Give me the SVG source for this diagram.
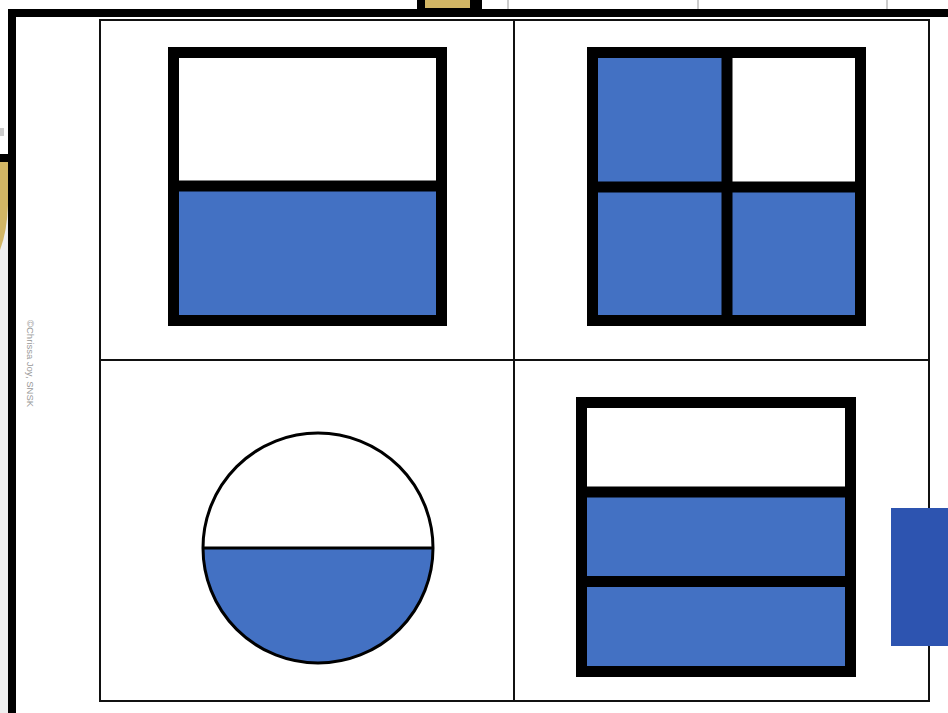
<svg xmlns="http://www.w3.org/2000/svg" width="948" height="713" viewBox="0 0 948 713">
<style>
.frame{fill:none;stroke:#000;stroke-width:11}
.div{stroke:#000;stroke-width:11}
.blue{fill:#4371C3}
.grid{stroke:#111;stroke-width:2;fill:none}
.thin{stroke:#bbb;stroke-width:1.5}
</style>
<rect x="0" y="0" width="948" height="713" fill="#fff"/>
<!-- outside strip left -->
<rect x="0" y="162" width="8" height="551" fill="#efefef"/>
<path d="M0 162 H8 V205 Q7 232 0 250 Z" fill="#D2B665"/>
<rect x="0" y="154" width="8" height="8" fill="#000"/>
<rect x="0" y="128" width="4" height="8" fill="#ccc"/>
<!-- top strip -->
<rect x="417" y="0" width="65" height="9" fill="#000"/>
<rect x="425" y="0" width="45" height="8" fill="#D2B665"/>
<line class="thin" x1="508" y1="0" x2="508" y2="9"/>
<line class="thin" x1="698" y1="0" x2="698" y2="9"/>
<line class="thin" x1="887" y1="0" x2="887" y2="9"/>
<!-- thick border -->
<rect x="8" y="9" width="940" height="8" fill="#000"/>
<rect x="8" y="9" width="8" height="704" fill="#000"/>
<text x="27" y="320" transform="rotate(90 27 320)" font-family="Liberation Sans, Arial, sans-serif" font-size="9.5" fill="#999">©Chrissa Joy, SNSK</text>
<g id="connectors">
<rect class="grid" x="100" y="20" width="829" height="681"/>
<line class="grid" x1="514" y1="20" x2="514" y2="701"/>
<line class="grid" x1="100" y1="360" x2="929" y2="360"/>
</g>
<g id="half-rect">
<rect class="blue" x="173.5" y="186" width="268" height="134.5"/>
<rect class="frame" x="173.5" y="52.5" width="268" height="268"/>
<line class="div" x1="173.5" y1="186" x2="441.5" y2="186"/>
</g>
<g id="quarters">
<rect class="blue" x="592.5" y="52.5" width="134.5" height="268"/>
<rect class="blue" x="727" y="187" width="133.5" height="133.5"/>
<rect class="frame" x="592.5" y="52.5" width="268" height="268"/>
<line class="div" x1="727" y1="52.5" x2="727" y2="320.5"/>
<line class="div" x1="592.5" y1="187" x2="860.5" y2="187"/>
</g>
<g id="circle">
<path class="blue" d="M203 548 A115 115 0 0 0 433 548 Z"/>
<circle cx="318" cy="548" r="115" fill="none" stroke="#000" stroke-width="3"/>
<line x1="203" y1="548" x2="433" y2="548" stroke="#000" stroke-width="3"/>
</g>
<g id="thirds">
<rect class="blue" x="581.5" y="492" width="269" height="179.5"/>
<rect class="frame" x="581.5" y="402.5" width="269" height="269"/>
<line class="div" x1="581.5" y1="492" x2="850.5" y2="492"/>
<line class="div" x1="581.5" y1="581.5" x2="850.5" y2="581.5"/>
</g>
<rect x="891" y="508" width="57" height="138" fill="#2D54B0"/>
</svg>
